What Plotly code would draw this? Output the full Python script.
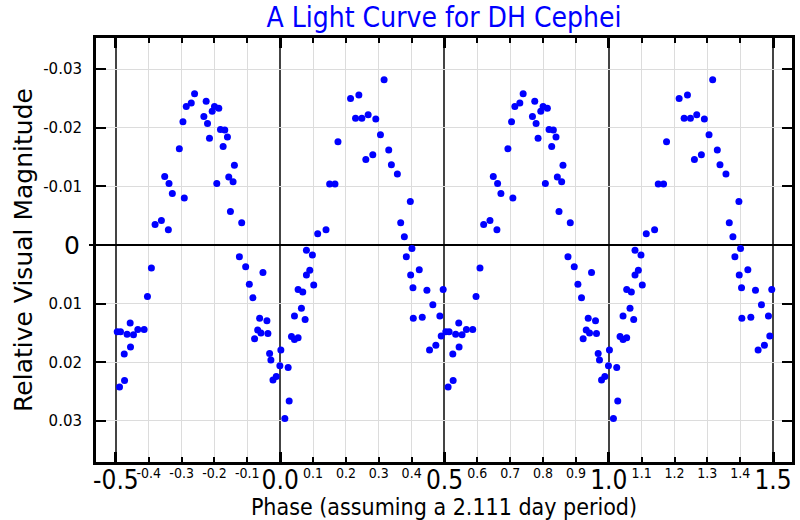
import plotly.graph_objects as go

# Base observations: phase in [0, 1) and relative visual magnitude
phase = [
    0.002, 0.0141, 0.0242, 0.0273, 0.0343, 0.0434, 0.0545, 0.0434, 0.0646, 0.0758,
    0.0545, 0.0687, 0.102, 0.0798, 0.090, 0.0798, 0.098, 0.1141, 0.1394, 0.1505,
    0.1667, 0.1758, 0.2141, 0.2394, 0.2293, 0.2485, 0.2677, 0.2909, 0.3162, 0.3051,
    0.3303, 0.2606, 0.2818, 0.3384, 0.3566, 0.396, 0.3667, 0.3778, 0.401, 0.3838,
    0.397, 0.4232, 0.404, 0.4465, 0.405, 0.4323, 0.4646, 0.4859, 0.496, 0.490,
    0.4545, 0.4737,
    0.504, 0.514, 0.534, 0.5434, 0.5535, 0.5667, 0.5859, 0.5444, 0.5253, 0.5263,
    0.511, 0.596, 0.608,
    0.7394, 0.7293, 0.7141, 0.7747, 0.800, 0.8131, 0.793, 0.7677, 0.7788, 0.704,
    0.8182, 0.8313, 0.7848, 0.8394, 0.8263, 0.693, 0.8606, 0.6485, 0.8434, 0.8566,
    0.6616, 0.807, 0.6717, 0.7081, 0.8485, 0.6192, 0.6384, 0.6596, 0.8828, 0.8758,
    0.8949, 0.9475, 0.906, 0.917, 0.9374, 0.9596, 0.9313, 0.9414, 0.9626, 0.922,
    0.9677, 0.9717, 0.978, 0.988, 0.999,
]
magnitude = [
    0.0179, 0.0296, 0.0209, 0.0266, 0.0156, 0.0161, 0.0158, 0.0121, 0.0108, 0.0127,
    0.0076, 0.0080, 0.0068, 0.0051, 0.0043, 0.0009, 0.0017, -0.0019, -0.0026, -0.0104,
    -0.0104, -0.0176, -0.0250, -0.0256, -0.0216, -0.0216, -0.0222, -0.0215, -0.0282, -0.0188,
    -0.0162, -0.0146, -0.0154, -0.0137, -0.0121, -0.0074, -0.0038, -0.0014, 0.0006, 0.0020,
    0.0051, 0.0042, 0.0073, 0.0077, 0.0125, 0.0123, 0.0102, 0.0121, 0.0076, 0.0155,
    0.0179, 0.0171,
    0.0148, 0.0148, 0.0152, 0.0133, 0.0153, 0.0144, 0.0144, 0.0174, 0.0186, 0.0231,
    0.0242, 0.0088, 0.0039,
    -0.0258, -0.0242, -0.0236, -0.0245, -0.0236, -0.0233, -0.0228, -0.0219, -0.0207, -0.0210,
    -0.0197, -0.0196, -0.0182, -0.0184, -0.0168, -0.0164, -0.0136, -0.0117, -0.0116, -0.0108,
    -0.0105, -0.0105, -0.0088, -0.0080, -0.0057, -0.0035, -0.0042, -0.0026, -0.0038, 0.0020,
    0.0037, 0.0047, 0.0067, 0.0090, 0.0125, 0.0129, 0.0145, 0.0150, 0.0151, 0.0160,
    0.0185, 0.0196, 0.0230, 0.0224, 0.0206,
]

major_ticks = [-0.5, 0.0, 0.5, 1.0, 1.5]
major_labels = ["-0.5", "0.0", "0.5", "1.0", "1.5"]
minor_ticks = [-0.4, -0.3, -0.2, -0.1, 0.1, 0.2, 0.3, 0.4, 0.6, 0.7, 0.8, 0.9,
               1.1, 1.2, 1.3, 1.4]
minor_labels = ["-0.4", "-0.3", "-0.2", "-0.1", "0.1", "0.2", "0.3", "0.4", "0.6",
                "0.7", "0.8", "0.9", "1.1", "1.2", "1.3", "1.4"]
y_ticks = [-0.03, -0.02, -0.01, 0.01, 0.02, 0.03]
y_labels = ["-0.03", "-0.02", "-0.01", "0.01", "0.02", "0.03"]
y_zero_tick = [0]
y_zero_label = ["0"]

x_range = [-0.5606, 1.5576]
y_range = [0.0370, -0.0353]

# Fold the phases over the displayed interval [-0.5, 1.5]
xs, ys = [], []
for p, m in zip(phase, magnitude):
    for shift in (-1, 0, 1):
        q = p + shift
        if -0.5 <= q <= 1.5:
            xs.append(q)
            ys.append(m)

FONT = "DejaVu Sans"
COND = "DejaVu Sans Condensed, DejaVu Sans"
fig = go.Figure()
fig.add_trace(go.Scatter(x=xs, y=ys, mode="markers",
                         marker=dict(color="#0000ff", size=7, line=dict(width=0)),
                         showlegend=False))
fig.add_trace(go.Scatter(x=[], y=[], xaxis="x2", yaxis="y2", showlegend=False))

fig.update_layout(
    width=800, height=520,
    margin=dict(l=96, r=5, t=38, b=58),
    paper_bgcolor="white", plot_bgcolor="white",
    font=dict(family=FONT, color="black"),
    title=dict(text="A Light Curve for DH Cephei", x=0.5, xref="paper",
               y=0.966, yanchor="middle",
               font=dict(family=COND, size=28, color="#0000ff")),
    xaxis=dict(
        range=x_range, tickvals=major_ticks, ticktext=major_labels,
        tickfont=dict(family=COND, size=26), ticks="inside", ticklen=10, tickwidth=3,
        tickcolor="black", showline=True, linewidth=3, linecolor="black",
        mirror="ticks", showgrid=True, gridcolor="#444444", gridwidth=1.5,
        zeroline=False, ticklabelstandoff=-7,
        minor=dict(tickvals=minor_ticks, ticks="inside", ticklen=5, tickwidth=2,
                   tickcolor="black", showgrid=True, gridcolor="#dcdcdc", gridwidth=1),
        title=dict(text="Phase (assuming a 2.111 day period)",
                   font=dict(family=COND, size=23), standoff=0),
    ),
    xaxis2=dict(
        overlaying="x", anchor="y", side="bottom", range=x_range,
        tickvals=minor_ticks, ticktext=minor_labels,
        tickfont=dict(family=COND, size=14),
        ticks="", showgrid=False, showline=False, zeroline=False,
        ticklabelstandoff=1,
    ),
    yaxis=dict(
        range=y_range, tickvals=y_ticks, ticktext=y_labels, tickfont=dict(size=15),
        ticks="inside", ticklen=10, tickwidth=2, tickcolor="black",
        showline=True, linewidth=3, linecolor="black", mirror="ticks",
        showgrid=True, gridcolor="#dcdcdc", gridwidth=1,
        zeroline=True, zerolinecolor="black", zerolinewidth=1.5,
        ticklabelstandoff=8,
        title=dict(text="Relative Visual Magnitude", font=dict(size=25), standoff=4),
    ),
    yaxis2=dict(
        overlaying="y", anchor="x", side="left", range=y_range,
        tickvals=y_zero_tick, ticktext=y_zero_label, tickfont=dict(size=25),
        ticks="outside", ticklen=6, tickwidth=2, tickcolor="black",
        showgrid=False, showline=False, zeroline=False, ticklabelstandoff=4,
    ),
)

fig.write_html("out.html", config={"displayModeBar": False},
               post_script="document.body.style.margin='0';")
